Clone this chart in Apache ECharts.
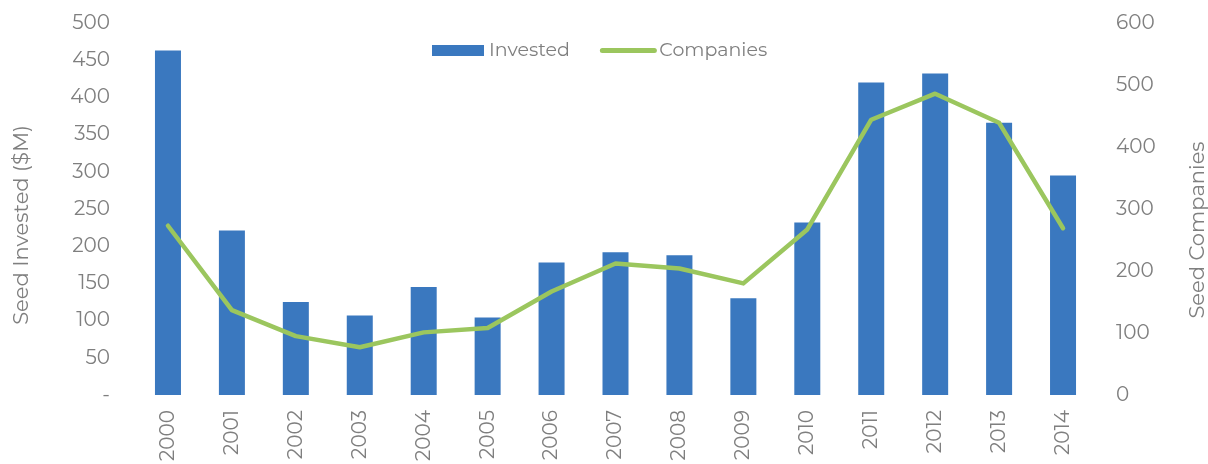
<!DOCTYPE html>
<html>
<head>
<meta charset="utf-8">
<script src="https://cdn.jsdelivr.net/npm/echarts@6/dist/echarts.min.js"></script>
<style>
  html, body { margin: 0; padding: 0; background: #fff; }
  #chart { width: 1208px; height: 464px; }
</style>
</head>
<body>
<div id="chart"></div>
<script>
const years = ["2000", "2001", "2002", "2003", "2004", "2005", "2006", "2007",
  "2008", "2009", "2010", "2011", "2012", "2013", "2014"];
const invested = [463, 221, 125, 107, 145, 104, 178, 192, 188, 130, 232, 420, 432, 366, 295];
const companies = [273, 137, 95, 77, 101, 108, 167, 212, 204, 180, 267, 444, 486, 439, 269];

const gray = "#7f7f7f";
const font = "Montserrat, 'Open Sans', sans-serif";

let chart = echarts.init(document.getElementById("chart"));
chart.setOption({
  animation: false,
  textStyle: { fontFamily: font, color: gray },
  grid: { left: 136, right: 113, top: 23, bottom: 69, outerBoundsMode: "none" },
  legend: {
    top: 36,
    left: 427,
    itemGap: 30,
    itemWidth: 52,
    itemHeight: 11,
    textStyle: { fontSize: 19, color: gray, fontFamily: font },
    data: [
      { name: "Invested", icon: "rect" },
      {
        name: "Companies",
        itemStyle: { opacity: 0 },
        lineStyle: { width: 5, cap: "round" },
      },
    ],
  },
  xAxis: {
    type: "category",
    data: years,
    axisLine: { show: false },
    axisTick: { show: false },
    axisLabel: { rotate: 90, fontSize: 20, color: gray, margin: 15 },
  },
  yAxis: [
    {
      type: "value",
      min: 0,
      max: 500,
      interval: 50,
      name: "Seed Invested ($M)",
      nameLocation: "middle",
      nameGap: 104,
      nameTextStyle: { fontSize: 21, color: gray, padding: [0, 32, 0, 0] },
      splitLine: { show: false },
      axisLabel: {
        fontSize: 20,
        color: gray,
        margin: 26,
        formatter: (v) => (v === 0 ? "-" : String(v)),
      },
    },
    {
      type: "value",
      min: 0,
      max: 600,
      interval: 100,
      name: "Seed Companies",
      nameLocation: "middle",
      nameGap: 92,
      nameTextStyle: { fontSize: 21, color: gray, padding: [0, 0, 0, -42] },
      splitLine: { show: false },
      axisLabel: { fontSize: 20, color: gray, margin: 21 },
    },
  ],
  series: [
    {
      name: "Invested",
      type: "bar",
      data: invested,
      barWidth: 26,
      itemStyle: { color: "#3a78bf" },
    },
    {
      name: "Companies",
      type: "line",
      yAxisIndex: 1,
      data: companies,
      symbol: "none",
      lineStyle: { color: "#9bc65e", width: 4.5, cap: "round", join: "round" },
      itemStyle: { color: "#9bc65e" },
    },
  ],
});
</script>
</body>
</html>
